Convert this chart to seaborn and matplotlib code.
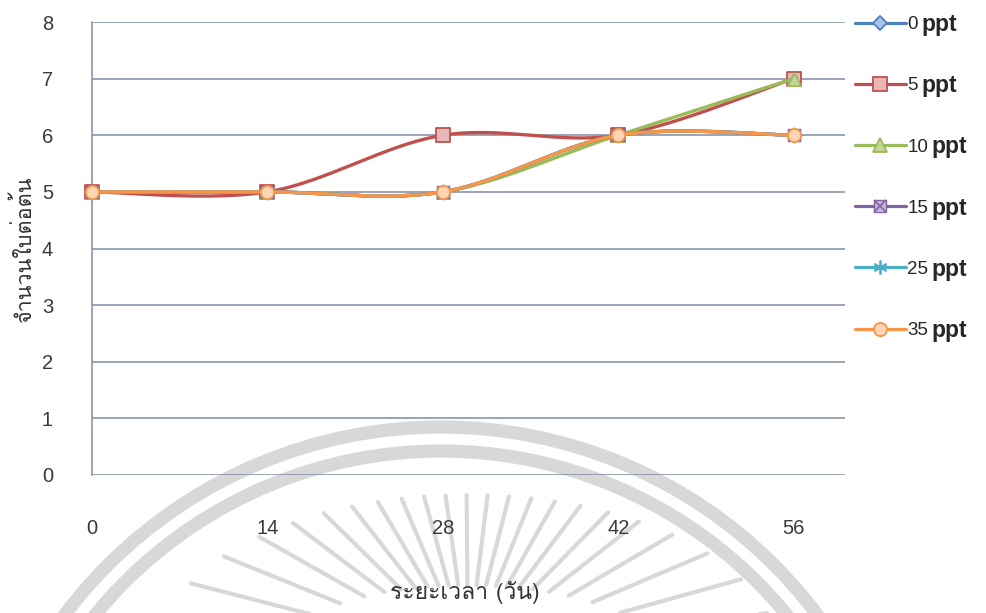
import numpy as np
import matplotlib
matplotlib.use("Agg")
import matplotlib.pyplot as plt
from matplotlib import font_manager as fm
from matplotlib.ft2font import FT2Font
from matplotlib.lines import Line2D
from matplotlib.patches import Circle
import seaborn as sns

# ---- data -------------------------------------------------------------
days = [0, 14, 28, 42, 56]
series_names = ["0", "5", "10", "15", "25", "35"]
leaves_0ppt = [5, 5, 5, 6, 6]
leaves_5ppt = [5, 5, 6, 6, 7]
leaves_10ppt = [5, 5, 5, 6, 7]
leaves_15ppt = [5, 5, 5, 6, 6]
leaves_25ppt = [5, 5, 5, 6, 6]
leaves_35ppt = [5, 5, 5, 6, 6]
y_ticks = [0, 1, 2, 3, 4, 5, 6, 7, 8]
x_label = "ระยะเวลา (วัน)"
y_label = "จำนวนใบต่อต้น"
unit = "ppt"

all_series = [leaves_0ppt, leaves_5ppt, leaves_10ppt,
              leaves_15ppt, leaves_25ppt, leaves_35ppt]

line_colors = ["#4F81BD", "#C0504D", "#9BBB59", "#8064A2", "#4BACC6", "#F79646"]
face_colors = ["#A7C4E8", "#E6B9B8", "#C3D69B", "#C7B9DB", "#4BACC6", "#FCD5B5"]
markers = ["D", "s", "^", "s", (6, 2, 0), "o"]
marker_sizes = [7.0, 9.5, 9.5, 9.0, 10.0, 9.5]


def thai_family():
    """Return the first installed family that can draw the Thai labels."""
    probe = {ord(c) for c in (x_label + y_label) if not c.isascii() and not c.isspace()}
    seen = set()
    for f in fm.fontManager.ttflist:
        if f.fname in seen:
            continue
        seen.add(f.fname)
        try:
            cmap = FT2Font(f.fname).get_charmap()
        except Exception:
            continue
        if all(p in cmap for p in probe):
            return f.name
    return "DejaVu Sans"


def smooth_curve(xs, ys, n=40):
    """Cubic Bezier smoothing through the points (Catmull-Rom style)."""
    pts = np.column_stack([xs, ys]).astype(float)
    out = []
    last = len(pts) - 2
    for i in range(len(pts) - 1):
        p0 = pts[max(i - 1, 0)]
        p1 = pts[i]
        p2 = pts[i + 1]
        p3 = pts[min(i + 2, len(pts) - 1)]
        c1 = p1 + (p2 - p0) / 6.0
        c2 = p2 - (p3 - p1) / 6.0
        t = np.linspace(0, 1, n, endpoint=(i == last))[:, None]
        seg = ((1 - t) ** 3) * p1 + 3 * ((1 - t) ** 2) * t * c1 \
            + 3 * (1 - t) * t ** 2 * c2 + t ** 3 * p2
        out.append(seg)
    return np.vstack(out)


sns.set_theme(style="white")
thai = thai_family()
plt.rcParams["font.family"] = ["Liberation Sans", thai, "DejaVu Sans"]

W, H = 986, 613
fig = plt.figure(figsize=(W / 100, H / 100), dpi=100, facecolor="white")

# faint seal in the background
bg = fig.add_axes([0, 0, 1, 1], zorder=-5)
bg.set_xlim(0, W)
bg.set_ylim(H, 0)
bg.axis("off")
wm = "#d8d8d8"
for r in (471, 447):
    bg.add_patch(Circle((441, 898), r, fill=False, ec=wm, lw=9.5))
cx, cy = 468, 655
for ang in np.arange(8, 173, 7.5):
    a = np.deg2rad(ang)
    ux, uy = np.cos(a), -np.sin(a)
    r_out = 1.0 / np.sqrt((ux / 310) ** 2 + (uy / 160) ** 2)
    r_in = 1.0 / np.sqrt((ux / 190) ** 2 + (uy / 70) ** 2)
    bg.plot([cx + ux * r_in, cx + ux * r_out], [cy + uy * r_in, cy + uy * r_out],
            color=wm, lw=3.0, solid_capstyle="round")

# ---- main chart ---------------------------------------------------------
left, right, top, bottom = 92, 845, 22, 475
ax = fig.add_axes([left / W, 1 - bottom / H, (right - left) / W, (bottom - top) / H])
ax.patch.set_alpha(0)

grid_color = "#7F8CA3"
for i, vals in enumerate(all_series):
    curve = smooth_curve(days, vals)
    sns.lineplot(x=curve[:, 0], y=curve[:, 1], color=line_colors[i], lw=2.4,
                 sort=False, estimator=None, ax=ax, zorder=3 + i * 0.1)
    z = 3.05 + i * 0.1
    if i == 3:
        sns.scatterplot(x=days, y=vals, marker="s", s=marker_sizes[i] ** 2,
                        color=face_colors[i], edgecolor=line_colors[i], linewidth=1.0,
                        ax=ax, zorder=z, clip_on=False)
        sns.scatterplot(x=days, y=vals, marker="x", s=marker_sizes[i] ** 2,
                        color=line_colors[i], linewidth=1.2, ax=ax, zorder=z, clip_on=False)
    elif i == 4:
        sns.scatterplot(x=days, y=vals, marker=markers[i], s=marker_sizes[i] ** 2,
                        color=line_colors[i], linewidth=1.3, ax=ax, zorder=z, clip_on=False)
    else:
        sns.scatterplot(x=days, y=vals, marker=markers[i], s=marker_sizes[i] ** 2,
                        color=face_colors[i], edgecolor=line_colors[i], linewidth=1.3,
                        ax=ax, zorder=z, clip_on=False)

ax.set_xlim(0, 60.1)
ax.set_ylim(0, 8)
ax.set_xticks(days)
ax.set_yticks(y_ticks)
ax.set_xticklabels([str(d) for d in days])
ax.yaxis.grid(True, color=grid_color, lw=1.1)
ax.xaxis.grid(False)
for side in ("top", "right", "bottom"):
    ax.spines[side].set_visible(False)
ax.spines["left"].set_color(grid_color)
ax.spines["left"].set_linewidth(1.1)
ax.tick_params(axis="x", length=0, pad=32, labelsize=14.5, labelcolor="#3a3a3a")
ax.tick_params(axis="y", length=0, pad=28, labelsize=14.5, labelcolor="#3a3a3a")
ax.set_xlabel(x_label, fontsize=16.5, color="#333333",
              family=[thai, "DejaVu Sans"])
ax.set_ylabel(y_label, fontsize=15.5, color="#333333",
              family=[thai, "DejaVu Sans"])
ax.xaxis.set_label_coords(0.495, (475 - 581) / 453)
ax.yaxis.set_label_coords((24 - 92) / 753, 0.5)
ax.yaxis.label.set_va("center")

# ---- legend -------------------------------------------------------------
handles = []
for i in range(len(series_names)):
    if i == 3:
        h = (Line2D([], [], color=line_colors[i], lw=2.3, marker="s",
                    markersize=marker_sizes[i], mfc=face_colors[i], mec=line_colors[i]),
             Line2D([], [], ls="none", marker="x", markersize=marker_sizes[i],
                    mec=line_colors[i], mew=1.2))
    elif i == 4:
        h = Line2D([], [], color=line_colors[i], lw=2.3, marker=markers[i],
                   markersize=marker_sizes[i], mec=line_colors[i], mew=1.3)
    else:
        h = Line2D([], [], color=line_colors[i], lw=2.3, marker=markers[i],
                   markersize=marker_sizes[i], mfc=face_colors[i], mec=line_colors[i],
                   mew=1.3)
    handles.append(h)

leg = ax.legend(handles, series_names, loc="upper left",
                bbox_to_anchor=(855 / W, 1 - 16 / H), bbox_transform=fig.transFigure,
                frameon=False, fontsize=13.5, handlelength=2.7, handletextpad=0.1,
                labelspacing=2.35, borderpad=0, borderaxespad=0)

# the unit follows each legend number in a larger type
fig.canvas.draw()
for txt in leg.get_texts():
    txt.set_color("#262626")
    bb = txt.get_window_extent()
    fig.text((bb.x1 + 3) / W, (bb.y0 + 2) / H, unit, ha="left", va="baseline",
             fontsize=16.5, fontweight="bold", color="#262626")

fig.savefig("out.png", dpi=100, facecolor="white")
